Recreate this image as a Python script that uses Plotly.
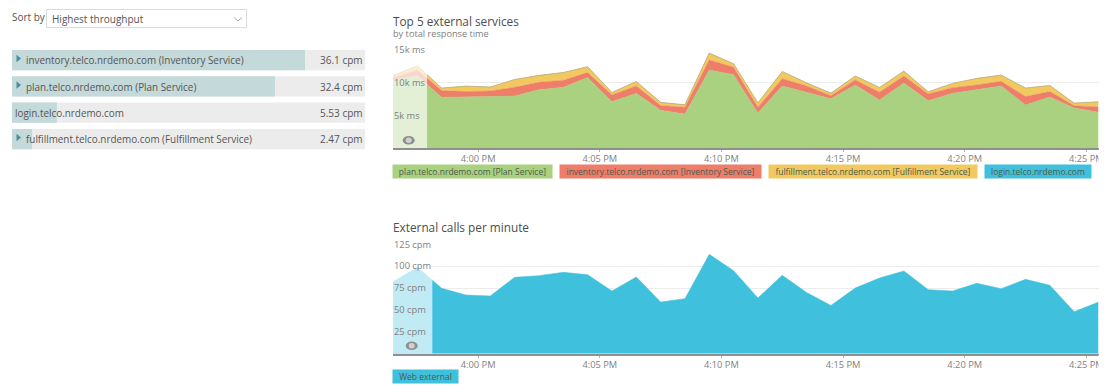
import plotly.graph_objects as go

W, H = 1112, 390

# ---------- data ----------
times = [f"2024-01-01 15:{m}:30" for m in range(56, 60)] + [f"2024-01-01 16:{m:02d}:30" for m in range(0, 26)]
tick_times = ["2024-01-01 16:00:00", "2024-01-01 16:05:00", "2024-01-01 16:10:00",
              "2024-01-01 16:15:00", "2024-01-01 16:20:00", "2024-01-01 16:25:00"]
tick_labels = ["4:00 PM", "4:05 PM", "4:10 PM", "4:15 PM", "4:20 PM", "4:25 PM"]

plan = [10350, 11010, 7730, 7730, 7830, 7930, 8890, 9240, 10710, 7070, 8330, 5760, 5200, 11870, 11160,
        5350, 9440, 8480, 7520, 9600, 7320, 9900, 7220, 8330, 8840, 9440, 6570, 7780, 6110, 5450]
inventory = [350, 860, 1010, 860, 860, 1310, 1110, 1060, 760, 1010, 1110, 710, 1010, 1520, 1110,
             860, 1110, 960, 450, 760, 1160, 1060, 1010, 860, 760, 710, 1260, 810, 350, 810]
fulfillment = [300, 610, 350, 810, 560, 1160, 1010, 1160, 860, 350, 660, 450, 350, 1010, 500,
               660, 1060, 450, 350, 560, 710, 710, 300, 610, 960, 910, 1260, 910, 350, 760]
login = [30, 40, 40, 30, 30, 30, 40, 30, 40, 40, 30, 40, 40, 30, 40,
         30, 40, 30, 40, 30, 40, 30, 40, 30, 40, 30, 40, 30, 40, 30]
web_external = [82.3, 98.7, 74.7, 67, 66, 87.3, 89.2, 93, 90.3, 71.6, 87.6, 59, 62.9, 113.5, 94.9,
                63.6, 89.5, 70, 55.2, 75, 86.5, 94.5, 73.2, 71.6, 80.4, 74.3, 85, 78.1, 48, 59]

services = ["inventory.telco.nrdemo.com (Inventory Service)", "plan.telco.nrdemo.com (Plan Service)",
            "login.telco.nrdemo.com", "fulfillment.telco.nrdemo.com (Fulfillment Service)"]
throughput = [36.1, 32.4, 5.53, 2.47]
throughput_labels = ["36.1 cpm", "32.4 cpm", "5.53 cpm", "2.47 cpm"]
expandable = [True, True, False, True]
track_max = 43.5

rt_ticks = [5000, 10000, 15000]
rt_labels = ["5k ms", "10k ms", "15k ms"]
cpm_ticks = [25, 50, 75, 100, 125]
cpm_labels = ["25 cpm", "50 cpm", "75 cpm", "100 cpm", "125 cpm"]

GREEN, RED, YELLOW, BLUE = "#a9d17f", "#ee7d6a", "#f2c95f", "#3fc0dc"
FONT = "Open Sans"
TXT = "#555555"
AXT = "#7f7f7f"


def px(x):
    return x / W


def py(y):
    return 1 - y / H


fig = go.Figure()

# ---------- left bars ----------
fig.add_trace(go.Bar(y=services, x=[track_max] * 4, orientation="h", marker=dict(color="#ececec", line_width=0),
                     xaxis="x3", yaxis="y3", width=0.77, hoverinfo="skip", showlegend=False))
fig.add_trace(go.Bar(y=services, x=throughput, orientation="h", marker=dict(color="#c4d9d9", line_width=0),
                     xaxis="x3", yaxis="y3", width=0.77, showlegend=False))

# ---------- stacked response time ----------
for name, vals, col in [("plan.telco.nrdemo.com [Plan Service]", plan, GREEN),
                        ("inventory.telco.nrdemo.com [Inventory Service]", inventory, RED),
                        ("fulfillment.telco.nrdemo.com [Fulfillment Service]", fulfillment, YELLOW),
                        ("login.telco.nrdemo.com", login, "#a09a70")]:
    fig.add_trace(go.Scatter(x=times, y=vals, name=name, stackgroup="rt", mode="lines",
                             line=dict(color=col, width=0.5), fillcolor=col, xaxis="x", yaxis="y",
                             showlegend=False))

fig.add_trace(go.Scatter(x=times, y=web_external, name="Web external", mode="lines", fill="tozeroy",
                         line=dict(color=BLUE, width=0.5), fillcolor=BLUE, xaxis="x2", yaxis="y2",
                         showlegend=False))

# faded "before deployment" regions, under tick labels
fig.add_trace(go.Scatter(x=[times[0], times[0], "2024-01-01 15:57:54", "2024-01-01 15:57:54"],
                         y=[0, 15000, 15000, 0], fill="toself", mode="none",
                         fillcolor="rgba(255,255,255,0.68)", xaxis="x", yaxis="y",
                         hoverinfo="skip", showlegend=False))
fig.add_trace(go.Scatter(x=[times[0], times[0], "2024-01-01 15:58:07", "2024-01-01 15:58:07"],
                         y=[0, 125, 125, 0], fill="toself", mode="none",
                         fillcolor="rgba(255,255,255,0.68)", xaxis="x2", yaxis="y2",
                         hoverinfo="skip", showlegend=False))

annotations = []


def text(x, y, s, size=10, color=TXT, anchor="left"):
    annotations.append(dict(x=px(x), y=py(y), xref="paper", yref="paper", text=s, showarrow=False,
                            xanchor=anchor, yanchor="middle", borderpad=0,
                            font=dict(family=FONT, size=size, color=color)))


def chip(x0, x1, y0, y1, s, col):
    annotations.append(dict(x=px(x0 - 1), y=py((y0 + y1) / 2), xref="paper", yref="paper", text=s, showarrow=False,
                            xanchor="left", yanchor="middle", width=x1 - x0, height=y1 - y0, bgcolor=col,
                            align="center", valign="middle", borderpad=0,
                            font=dict(family=FONT, size=8.5, color="#4f5b4a")))


text(11, 17, "Sort by", 10)
text(51, 19, "Highest throughput", 10)
rows_y = [60, 86.5, 113, 139]
for s, lab, yy, e in zip(services, throughput_labels, rows_y, expandable):
    text(25 if e else 14, yy, s, 9.9)
    text(364, yy, lab, 10, anchor="right")

text(392, 21, "Top 5 external services", 11.8, "#4d4d4d")
text(392, 33, "by total response time", 9.2, "#808080")
text(392, 227, "External calls per minute", 11.8, "#4d4d4d")

chip(393, 552, 165, 178, "plan.telco.nrdemo.com [Plan Service]", GREEN)
chip(560, 761, 165, 178, "inventory.telco.nrdemo.com [Inventory Service]", RED)
chip(769, 977, 165, 178, "fulfillment.telco.nrdemo.com [Fulfillment Service]", YELLOW)
chip(985, 1091, 165, 178, "login.telco.nrdemo.com", BLUE)
chip(393, 458, 370, 383, "Web external", BLUE)

shapes = [
    # sort select
    dict(type="rect", xref="paper", yref="paper", x0=px(46.5), x1=px(246.5), y0=py(9.5), y1=py(27.5),
         line=dict(color="#dcdcdc", width=1), fillcolor="white"),
    dict(type="path", xref="paper", yref="paper",
         path=f"M {px(234)} {py(17.5)} L {px(238)} {py(21)} L {px(242)} {py(17.5)}",
         line=dict(color="#aaaaaa", width=1)),
    # clipping of the last tick label
    dict(type="rect", xref="paper", yref="paper", x0=px(1098.5), x1=1, y0=py(165), y1=py(149.5),
         line_width=0, fillcolor="white"),
    dict(type="rect", xref="paper", yref="paper", x0=px(1098.5), x1=1, y0=py(370), y1=py(355),
         line_width=0, fillcolor="white"),
]
# expand arrows
for yy, e in zip(rows_y, expandable):
    if e:
        shapes.append(dict(type="path", xref="paper", yref="paper",
                           path=f"M {px(16.5)} {py(yy-3.8-1.5)} L {px(21)} {py(yy-1.5)} L {px(16.5)} {py(yy+3.8-1.5)} Z",
                           line_width=0, fillcolor="#4f8c9c"))
# eye icons
for cx, cy in [(408.7, 140.3), (411.7, 345.7)]:
    shapes.append(dict(type="circle", xref="paper", yref="paper", x0=px(cx - 6), x1=px(cx + 6),
                       y0=py(cy + 4.3), y1=py(cy - 4.3), fillcolor="#8f8f8f", line_width=0))
    shapes.append(dict(type="circle", xref="paper", yref="paper", x0=px(cx - 3), x1=px(cx + 3),
                       y0=py(cy + 2.7), y1=py(cy - 2.7), fillcolor="#d0d0d0", line_width=0))


def x_axis(domain, anchor):
    return dict(domain=domain, anchor=anchor, type="date", automargin=False,
                range=[times[0], times[-1]], tickmode="array", tickvals=tick_times, ticktext=tick_labels,
                showgrid=False, zeroline=False, showline=True, linecolor="#8f8f8f", linewidth=2,
                ticks="outside", ticklen=2, tickcolor="#b0b0b0", tickwidth=1, ticklabelstandoff=-1,
                tickfont=dict(family=FONT, size=9.3, color=AXT))


def y_axis(domain, anchor, rng, tv, tt):
    return dict(domain=domain, anchor=anchor, range=rng, tickmode="array", tickvals=tv, ticktext=tt,
                automargin=False, showgrid=True, gridcolor="#ececec", gridwidth=1, zeroline=False, showline=False,
                ticks="", ticklabelposition="inside", ticklabeloverflow="allow", ticklabelstandoff=-2,
                tickfont=dict(family=FONT, size=9.3, color=AXT))


fig.update_layout(
    width=W, height=H, margin=dict(l=0, r=0, t=0, b=0, autoexpand=False), paper_bgcolor="white", plot_bgcolor="white",
    barmode="overlay", showlegend=False, annotations=annotations, shapes=shapes,
    xaxis=x_axis([px(393), px(1098.5)], "y"),
    yaxis=y_axis([py(148.3), py(49.3)], "x", [0, 15000], rt_ticks, rt_labels),
    xaxis2=x_axis([px(393), px(1098.5)], "y2"),
    yaxis2=y_axis([py(353.7), py(244.3)], "x2", [0, 125], cpm_ticks, cpm_labels),
    xaxis3=dict(domain=[px(12), px(365)], anchor="y3", range=[0, track_max], visible=False),
    yaxis3=dict(domain=[py(152.2), py(46.85)], anchor="x3", type="category", categoryorder="array",
                categoryarray=services, range=[3.5, -0.5], visible=False),
)

fig.write_html("out.html", config={"displayModeBar": False},
               post_script="document.body.style.margin='0';document.body.style.overflow='hidden';")
